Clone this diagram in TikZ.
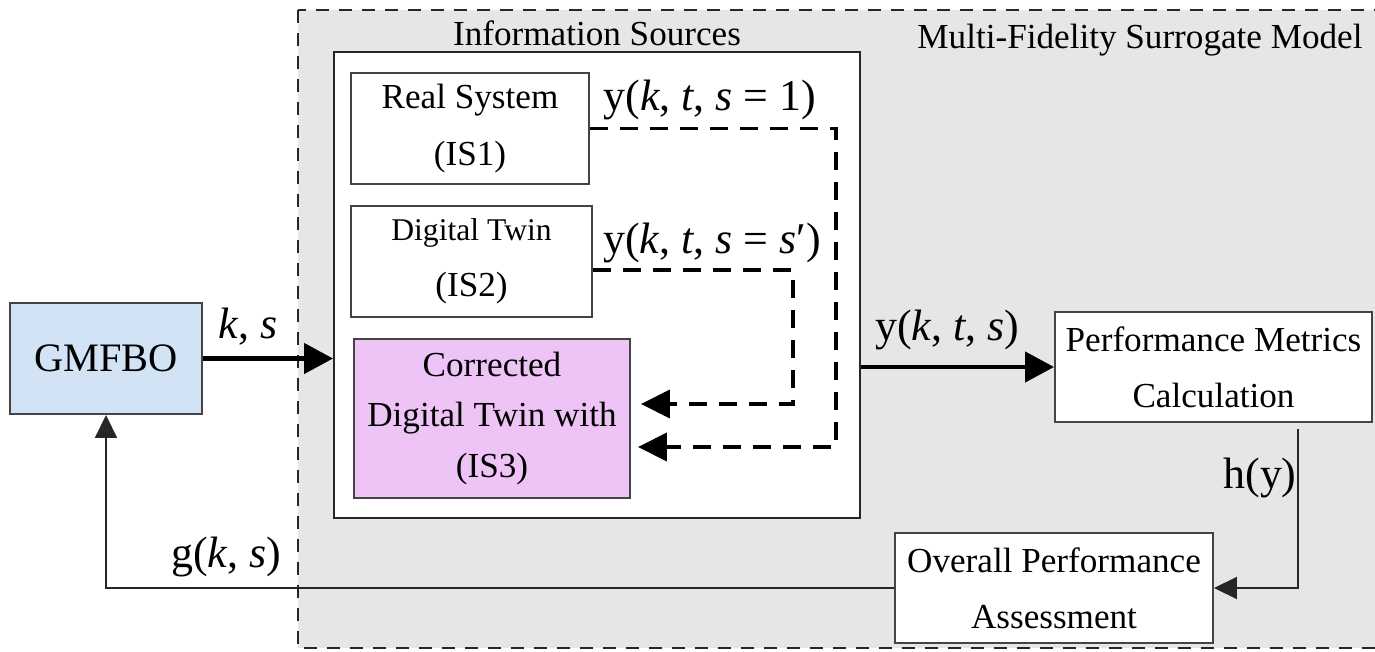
\documentclass[tikz,border=0pt]{standalone}
\usepackage{fontspec}
\setmainfont{Liberation Serif}
\usetikzlibrary{arrows.meta,calc}
\definecolor{bggray}{HTML}{E6E6E6}
\definecolor{gmblue}{HTML}{D3E3F6}
\definecolor{violet3}{HTML}{EEC4F6}
\definecolor{edgegray}{HTML}{444444}
\tikzset{
  box/.style={draw=edgegray, line width=0.04cm, fill=white, align=center, inner sep=0pt,
    font=\fontsize{20}{32}\selectfont},
  lab/.style={font=\fontsize{25}{30}\selectfont, inner sep=0pt},
  ttl/.style={font=\fontsize{20}{24}\selectfont, inner sep=0pt},
  thickarrow/.style={line width=0.09cm, -{Triangle[length=0.58cm,width=0.6cm]}},
  dasharrow/.style={line width=0.08cm, dash pattern=on 0.36cm off 0.24cm, -{Triangle[length=0.58cm,width=0.56cm]}},
  thinarrow/.style={draw=black!85, line width=0.04cm, -{Triangle[length=0.46cm,width=0.44cm]}},
  outerdash/.style={draw=black!85, line width=0.04cm, dash pattern=on 0.26cm off 0.2cm, fill=bggray},
}
\begin{document}
\begin{tikzpicture}[x=0.02cm, y=-0.02cm]
\useasboundingbox (0,0) rectangle (1375,652);
\clip (0,0) rectangle (1375,652);
% outer region
\draw[outerdash] (298,10) rectangle (1400,648);
\node[ttl] (mfsm) at (1140,40) {Multi-Fidelity Surrogate Model};
% information sources
\node[ttl] (istitle) at (597,33) {Information Sources};
\node[box, draw=black!85, minimum width=10.52cm, minimum height=9.32cm] (info) at (597,285) {};
\node[box, minimum width=4.76cm, minimum height=2.22cm] (real) at (470,128.5) {Real System\\(IS1)};
\node[box, minimum width=4.82cm, minimum height=2.22cm] (dt) at (471.5,261.5) {{\fontsize{18}{32}\selectfont Digital Twin}\\(IS2)};
\node[box, fill=violet3, minimum width=5.52cm, minimum height=3.18cm, font=\fontsize{20}{29}\selectfont] (corr) at (492,418.5) {Corrected\\Digital Twin with\\(IS3)};
% GMFBO
\node[box, fill=gmblue, minimum width=3.84cm, minimum height=2.22cm, font=\fontsize{23}{28}\selectfont] (gm) at (106,358.5) {GMFBO};
% performance boxes
\node[box, minimum width=6.34cm, minimum height=2.2cm] (perf) at (1213.5,367) {Performance Metrics\\Calculation};
\node[box, minimum width=6.36cm, minimum height=2.2cm] (ov) at (1054,588) {Overall Performance\\Assessment};
% coordinates
\coordinate (c1) at (836,447);
\coordinate (c2) at (793,404);
% connectors
\draw[thickarrow] (gm.east) -- (info.west |- gm.east);
\draw[thickarrow] (info.east |- perf.west) -- (perf.west);
\draw[dasharrow, shorten >=0.14cm] (real.east) -| (c1) -- (corr.east |- c1);
\draw[dasharrow, shorten >=0.2cm] ($(dt.east)+(0,8.5)$) -| (c2) -- (corr.east |- c2);
\draw[thinarrow] ($(perf.south)+(84.5,6)$) |- (ov.east);
\draw[thinarrow] (ov.west) -| (gm.south);
% labels
\node[lab] (lks) at (248,327) {\textit{k}, \textit{s}};
\node[lab] (ly) at (947,330) {y(\textit{k}, \textit{t}, \textit{s})};
\node[lab] (ly1) at (710,100) {y(\textit{k}, \textit{t}, \textit{s} = 1)};
\node[lab] (ly2) at (712,243) {y(\textit{k}, \textit{t}, \textit{s} = \textit{s}′)};
\node[lab] (lh) at (1260,478) {h(y)};
\node[lab] (lg) at (226,557) {g(\textit{k}, \textit{s})};
\end{tikzpicture}
\end{document}
